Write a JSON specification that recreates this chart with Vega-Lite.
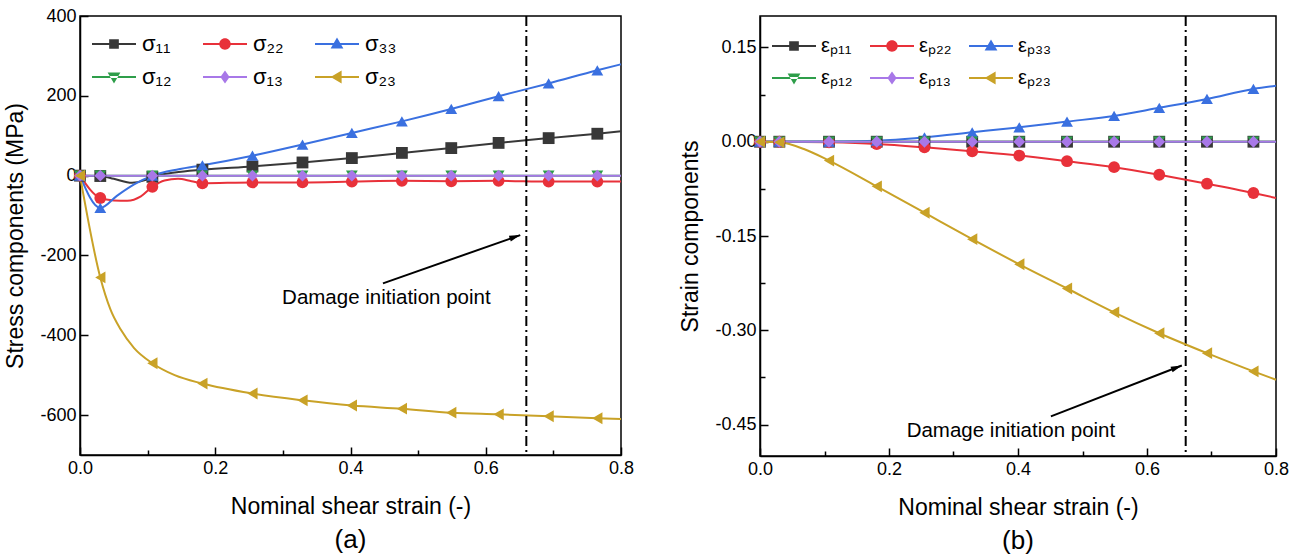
{
  "$schema": "https://vega.github.io/schema/vega-lite/v6.json",
  "background": "white",
  "padding": {"left": 4, "top": 6, "right": 4, "bottom": 2},
  "config": {
    "font": "Liberation Sans",
    "view": {"stroke": "black", "strokeWidth": 1.5},
    "axis": {"grid": false, "labelOverlap": false, "labelFlush": false, "domainColor": "black", "domainWidth": 1.5, "tickColor": "black", "tickWidth": 1.5, "labelColor": "black", "labelFontSize": 18, "titleColor": "black", "titleFontSize": 23, "titleFontWeight": "normal", "labelFont": "Liberation Sans", "titleFont": "Liberation Sans"},
    "title": {"fontSize": 26, "fontWeight": "normal", "color": "black", "font": "Liberation Sans"}
  },
  "datasets": {
    "damage": [{"x": 0.66}],
    "annotA": [{"x": 0.448, "y": -270, "x2": 0.651, "y2": -149, "tx": 0.453, "ty": -307, "label": "Damage initiation point"}],
    "annotB": [{"x": 0.451, "y": -0.437, "x2": 0.654, "y2": -0.356, "tx": 0.389, "ty": -0.46, "label": "Damage initiation point"}],
    "curveA": [
      {"s": "σ₁₁", "x": 0, "y": 0}, {"s": "σ₁₁", "x": 0.03, "y": -1}, {"s": "σ₁₁", "x": 0.05, "y": -8}, {"s": "σ₁₁", "x": 0.077, "y": -18}, {"s": "σ₁₁", "x": 0.095, "y": -12}, {"s": "σ₁₁", "x": 0.107, "y": -3}, {"s": "σ₁₁", "x": 0.14, "y": 8}, {"s": "σ₁₁", "x": 0.181, "y": 15}, {"s": "σ₁₁", "x": 0.255, "y": 23}, {"s": "σ₁₁", "x": 0.329, "y": 33}, {"s": "σ₁₁", "x": 0.402, "y": 44}, {"s": "σ₁₁", "x": 0.476, "y": 57}, {"s": "σ₁₁", "x": 0.549, "y": 69}, {"s": "σ₁₁", "x": 0.619, "y": 82}, {"s": "σ₁₁", "x": 0.693, "y": 94}, {"s": "σ₁₁", "x": 0.765, "y": 105}, {"s": "σ₁₁", "x": 0.8, "y": 111},
      {"s": "σ₂₂", "x": 0, "y": 0}, {"s": "σ₂₂", "x": 0.03, "y": -56}, {"s": "σ₂₂", "x": 0.05, "y": -62}, {"s": "σ₂₂", "x": 0.07, "y": -63}, {"s": "σ₂₂", "x": 0.09, "y": -52}, {"s": "σ₂₂", "x": 0.107, "y": -28}, {"s": "σ₂₂", "x": 0.125, "y": -12}, {"s": "σ₂₂", "x": 0.145, "y": -8}, {"s": "σ₂₂", "x": 0.165, "y": -14}, {"s": "σ₂₂", "x": 0.181, "y": -19}, {"s": "σ₂₂", "x": 0.255, "y": -17}, {"s": "σ₂₂", "x": 0.329, "y": -17}, {"s": "σ₂₂", "x": 0.402, "y": -15}, {"s": "σ₂₂", "x": 0.476, "y": -13}, {"s": "σ₂₂", "x": 0.549, "y": -14}, {"s": "σ₂₂", "x": 0.619, "y": -13}, {"s": "σ₂₂", "x": 0.693, "y": -15}, {"s": "σ₂₂", "x": 0.765, "y": -15}, {"s": "σ₂₂", "x": 0.8, "y": -15},
      {"s": "σ₃₃", "x": 0, "y": 0}, {"s": "σ₃₃", "x": 0.03, "y": -81}, {"s": "σ₃₃", "x": 0.055, "y": -50}, {"s": "σ₃₃", "x": 0.08, "y": -22}, {"s": "σ₃₃", "x": 0.107, "y": 0}, {"s": "σ₃₃", "x": 0.146, "y": 16}, {"s": "σ₃₃", "x": 0.181, "y": 26}, {"s": "σ₃₃", "x": 0.255, "y": 50}, {"s": "σ₃₃", "x": 0.329, "y": 78}, {"s": "σ₃₃", "x": 0.402, "y": 107}, {"s": "σ₃₃", "x": 0.476, "y": 136}, {"s": "σ₃₃", "x": 0.549, "y": 167}, {"s": "σ₃₃", "x": 0.619, "y": 199}, {"s": "σ₃₃", "x": 0.693, "y": 231}, {"s": "σ₃₃", "x": 0.765, "y": 264}, {"s": "σ₃₃", "x": 0.8, "y": 279},
      {"s": "σ₁₂", "x": 0, "y": 0}, {"s": "σ₁₂", "x": 0.8, "y": 0},
      {"s": "σ₁₃", "x": 0, "y": 0}, {"s": "σ₁₃", "x": 0.8, "y": 0},
      {"s": "σ₂₃", "x": 0, "y": 0}, {"s": "σ₂₃", "x": 0.03, "y": -255}, {"s": "σ₂₃", "x": 0.045, "y": -335}, {"s": "σ₂₃", "x": 0.06, "y": -385}, {"s": "σ₂₃", "x": 0.08, "y": -432}, {"s": "σ₂₃", "x": 0.107, "y": -470}, {"s": "σ₂₃", "x": 0.14, "y": -500}, {"s": "σ₂₃", "x": 0.181, "y": -521}, {"s": "σ₂₃", "x": 0.255, "y": -546}, {"s": "σ₂₃", "x": 0.329, "y": -563}, {"s": "σ₂₃", "x": 0.402, "y": -576}, {"s": "σ₂₃", "x": 0.476, "y": -584}, {"s": "σ₂₃", "x": 0.549, "y": -594}, {"s": "σ₂₃", "x": 0.619, "y": -598}, {"s": "σ₂₃", "x": 0.693, "y": -603}, {"s": "σ₂₃", "x": 0.765, "y": -608}, {"s": "σ₂₃", "x": 0.8, "y": -610}
    ],
    "markA": [
      {"s": "σ₁₁", "x": 0, "y": 0}, {"s": "σ₁₁", "x": 0.03, "y": -1}, {"s": "σ₁₁", "x": 0.107, "y": -3}, {"s": "σ₁₁", "x": 0.181, "y": 15}, {"s": "σ₁₁", "x": 0.255, "y": 23}, {"s": "σ₁₁", "x": 0.329, "y": 33}, {"s": "σ₁₁", "x": 0.402, "y": 44}, {"s": "σ₁₁", "x": 0.476, "y": 57}, {"s": "σ₁₁", "x": 0.549, "y": 69}, {"s": "σ₁₁", "x": 0.619, "y": 82}, {"s": "σ₁₁", "x": 0.693, "y": 94}, {"s": "σ₁₁", "x": 0.765, "y": 105},
      {"s": "σ₂₂", "x": 0, "y": 0}, {"s": "σ₂₂", "x": 0.03, "y": -56}, {"s": "σ₂₂", "x": 0.107, "y": -28}, {"s": "σ₂₂", "x": 0.181, "y": -19}, {"s": "σ₂₂", "x": 0.255, "y": -17}, {"s": "σ₂₂", "x": 0.329, "y": -17}, {"s": "σ₂₂", "x": 0.402, "y": -15}, {"s": "σ₂₂", "x": 0.476, "y": -13}, {"s": "σ₂₂", "x": 0.549, "y": -14}, {"s": "σ₂₂", "x": 0.619, "y": -13}, {"s": "σ₂₂", "x": 0.693, "y": -15}, {"s": "σ₂₂", "x": 0.765, "y": -15},
      {"s": "σ₃₃", "x": 0, "y": 0}, {"s": "σ₃₃", "x": 0.03, "y": -81}, {"s": "σ₃₃", "x": 0.107, "y": 0}, {"s": "σ₃₃", "x": 0.181, "y": 26}, {"s": "σ₃₃", "x": 0.255, "y": 50}, {"s": "σ₃₃", "x": 0.329, "y": 78}, {"s": "σ₃₃", "x": 0.402, "y": 107}, {"s": "σ₃₃", "x": 0.476, "y": 136}, {"s": "σ₃₃", "x": 0.549, "y": 167}, {"s": "σ₃₃", "x": 0.619, "y": 199}, {"s": "σ₃₃", "x": 0.693, "y": 231}, {"s": "σ₃₃", "x": 0.765, "y": 264},
      {"s": "σ₁₂", "x": 0, "y": 0}, {"s": "σ₁₂", "x": 0.03, "y": 0}, {"s": "σ₁₂", "x": 0.107, "y": 0}, {"s": "σ₁₂", "x": 0.181, "y": 0}, {"s": "σ₁₂", "x": 0.255, "y": 0}, {"s": "σ₁₂", "x": 0.329, "y": 0}, {"s": "σ₁₂", "x": 0.402, "y": 0}, {"s": "σ₁₂", "x": 0.476, "y": 0}, {"s": "σ₁₂", "x": 0.549, "y": 0}, {"s": "σ₁₂", "x": 0.619, "y": 0}, {"s": "σ₁₂", "x": 0.693, "y": 0}, {"s": "σ₁₂", "x": 0.765, "y": 0},
      {"s": "σ₁₃", "x": 0, "y": 0}, {"s": "σ₁₃", "x": 0.03, "y": 0}, {"s": "σ₁₃", "x": 0.107, "y": 0}, {"s": "σ₁₃", "x": 0.181, "y": 0}, {"s": "σ₁₃", "x": 0.255, "y": 0}, {"s": "σ₁₃", "x": 0.329, "y": 0}, {"s": "σ₁₃", "x": 0.402, "y": 0}, {"s": "σ₁₃", "x": 0.476, "y": 0}, {"s": "σ₁₃", "x": 0.549, "y": 0}, {"s": "σ₁₃", "x": 0.619, "y": 0}, {"s": "σ₁₃", "x": 0.693, "y": 0}, {"s": "σ₁₃", "x": 0.765, "y": 0},
      {"s": "σ₂₃", "x": 0, "y": 0}, {"s": "σ₂₃", "x": 0.03, "y": -255}, {"s": "σ₂₃", "x": 0.107, "y": -470}, {"s": "σ₂₃", "x": 0.181, "y": -521}, {"s": "σ₂₃", "x": 0.255, "y": -546}, {"s": "σ₂₃", "x": 0.329, "y": -563}, {"s": "σ₂₃", "x": 0.402, "y": -576}, {"s": "σ₂₃", "x": 0.476, "y": -584}, {"s": "σ₂₃", "x": 0.549, "y": -594}, {"s": "σ₂₃", "x": 0.619, "y": -598}, {"s": "σ₂₃", "x": 0.693, "y": -603}, {"s": "σ₂₃", "x": 0.765, "y": -608}
    ],
    "curveB": [
      {"s": "εₚ₁₁", "x": 0, "y": 0}, {"s": "εₚ₁₁", "x": 0.8, "y": 0},
      {"s": "εₚ₂₂", "x": 0, "y": 0}, {"s": "εₚ₂₂", "x": 0.03, "y": 0}, {"s": "εₚ₂₂", "x": 0.107, "y": -0.001}, {"s": "εₚ₂₂", "x": 0.181, "y": -0.0037}, {"s": "εₚ₂₂", "x": 0.255, "y": -0.009}, {"s": "εₚ₂₂", "x": 0.329, "y": -0.0153}, {"s": "εₚ₂₂", "x": 0.402, "y": -0.022}, {"s": "εₚ₂₂", "x": 0.476, "y": -0.031}, {"s": "εₚ₂₂", "x": 0.549, "y": -0.0405}, {"s": "εₚ₂₂", "x": 0.619, "y": -0.0526}, {"s": "εₚ₂₂", "x": 0.693, "y": -0.0668}, {"s": "εₚ₂₂", "x": 0.765, "y": -0.0816}, {"s": "εₚ₂₂", "x": 0.8, "y": -0.0895},
      {"s": "εₚ₃₃", "x": 0, "y": 0}, {"s": "εₚ₃₃", "x": 0.03, "y": 0}, {"s": "εₚ₃₃", "x": 0.107, "y": 0.0003}, {"s": "εₚ₃₃", "x": 0.181, "y": 0.0016}, {"s": "εₚ₃₃", "x": 0.255, "y": 0.007}, {"s": "εₚ₃₃", "x": 0.329, "y": 0.015}, {"s": "εₚ₃₃", "x": 0.402, "y": 0.023}, {"s": "εₚ₃₃", "x": 0.476, "y": 0.032}, {"s": "εₚ₃₃", "x": 0.549, "y": 0.041}, {"s": "εₚ₃₃", "x": 0.619, "y": 0.054}, {"s": "εₚ₃₃", "x": 0.693, "y": 0.068}, {"s": "εₚ₃₃", "x": 0.765, "y": 0.084}, {"s": "εₚ₃₃", "x": 0.8, "y": 0.089},
      {"s": "εₚ₁₂", "x": 0, "y": 0}, {"s": "εₚ₁₂", "x": 0.8, "y": 0},
      {"s": "εₚ₁₃", "x": 0, "y": 0}, {"s": "εₚ₁₃", "x": 0.8, "y": 0},
      {"s": "εₚ₂₃", "x": 0, "y": 0}, {"s": "εₚ₂₃", "x": 0.03, "y": -0.001}, {"s": "εₚ₂₃", "x": 0.069, "y": -0.012}, {"s": "εₚ₂₃", "x": 0.107, "y": -0.03}, {"s": "εₚ₂₃", "x": 0.181, "y": -0.071}, {"s": "εₚ₂₃", "x": 0.255, "y": -0.113}, {"s": "εₚ₂₃", "x": 0.329, "y": -0.155}, {"s": "εₚ₂₃", "x": 0.402, "y": -0.195}, {"s": "εₚ₂₃", "x": 0.476, "y": -0.2335}, {"s": "εₚ₂₃", "x": 0.549, "y": -0.2715}, {"s": "εₚ₂₃", "x": 0.619, "y": -0.3047}, {"s": "εₚ₂₃", "x": 0.693, "y": -0.3364}, {"s": "εₚ₂₃", "x": 0.765, "y": -0.3654}, {"s": "εₚ₂₃", "x": 0.8, "y": -0.3786}
    ],
    "markB": [
      {"s": "εₚ₁₁", "x": 0, "y": 0}, {"s": "εₚ₁₁", "x": 0.03, "y": 0}, {"s": "εₚ₁₁", "x": 0.107, "y": 0}, {"s": "εₚ₁₁", "x": 0.181, "y": 0}, {"s": "εₚ₁₁", "x": 0.255, "y": 0}, {"s": "εₚ₁₁", "x": 0.329, "y": 0}, {"s": "εₚ₁₁", "x": 0.402, "y": 0}, {"s": "εₚ₁₁", "x": 0.476, "y": 0}, {"s": "εₚ₁₁", "x": 0.549, "y": 0}, {"s": "εₚ₁₁", "x": 0.619, "y": 0}, {"s": "εₚ₁₁", "x": 0.693, "y": 0}, {"s": "εₚ₁₁", "x": 0.765, "y": 0},
      {"s": "εₚ₂₂", "x": 0, "y": 0}, {"s": "εₚ₂₂", "x": 0.03, "y": 0}, {"s": "εₚ₂₂", "x": 0.107, "y": -0.001}, {"s": "εₚ₂₂", "x": 0.181, "y": -0.0037}, {"s": "εₚ₂₂", "x": 0.255, "y": -0.009}, {"s": "εₚ₂₂", "x": 0.329, "y": -0.0153}, {"s": "εₚ₂₂", "x": 0.402, "y": -0.022}, {"s": "εₚ₂₂", "x": 0.476, "y": -0.031}, {"s": "εₚ₂₂", "x": 0.549, "y": -0.0405}, {"s": "εₚ₂₂", "x": 0.619, "y": -0.0526}, {"s": "εₚ₂₂", "x": 0.693, "y": -0.0668}, {"s": "εₚ₂₂", "x": 0.765, "y": -0.0816},
      {"s": "εₚ₃₃", "x": 0, "y": 0}, {"s": "εₚ₃₃", "x": 0.03, "y": 0}, {"s": "εₚ₃₃", "x": 0.107, "y": 0.0003}, {"s": "εₚ₃₃", "x": 0.181, "y": 0.0016}, {"s": "εₚ₃₃", "x": 0.255, "y": 0.007}, {"s": "εₚ₃₃", "x": 0.329, "y": 0.015}, {"s": "εₚ₃₃", "x": 0.402, "y": 0.023}, {"s": "εₚ₃₃", "x": 0.476, "y": 0.032}, {"s": "εₚ₃₃", "x": 0.549, "y": 0.041}, {"s": "εₚ₃₃", "x": 0.619, "y": 0.054}, {"s": "εₚ₃₃", "x": 0.693, "y": 0.068}, {"s": "εₚ₃₃", "x": 0.765, "y": 0.084},
      {"s": "εₚ₁₂", "x": 0, "y": 0}, {"s": "εₚ₁₂", "x": 0.03, "y": 0}, {"s": "εₚ₁₂", "x": 0.107, "y": 0}, {"s": "εₚ₁₂", "x": 0.181, "y": 0}, {"s": "εₚ₁₂", "x": 0.255, "y": 0}, {"s": "εₚ₁₂", "x": 0.329, "y": 0}, {"s": "εₚ₁₂", "x": 0.402, "y": 0}, {"s": "εₚ₁₂", "x": 0.476, "y": 0}, {"s": "εₚ₁₂", "x": 0.549, "y": 0}, {"s": "εₚ₁₂", "x": 0.619, "y": 0}, {"s": "εₚ₁₂", "x": 0.693, "y": 0}, {"s": "εₚ₁₂", "x": 0.765, "y": 0},
      {"s": "εₚ₁₃", "x": 0, "y": 0}, {"s": "εₚ₁₃", "x": 0.03, "y": 0}, {"s": "εₚ₁₃", "x": 0.107, "y": 0}, {"s": "εₚ₁₃", "x": 0.181, "y": 0}, {"s": "εₚ₁₃", "x": 0.255, "y": 0}, {"s": "εₚ₁₃", "x": 0.329, "y": 0}, {"s": "εₚ₁₃", "x": 0.402, "y": 0}, {"s": "εₚ₁₃", "x": 0.476, "y": 0}, {"s": "εₚ₁₃", "x": 0.549, "y": 0}, {"s": "εₚ₁₃", "x": 0.619, "y": 0}, {"s": "εₚ₁₃", "x": 0.693, "y": 0}, {"s": "εₚ₁₃", "x": 0.765, "y": 0},
      {"s": "εₚ₂₃", "x": 0, "y": 0}, {"s": "εₚ₂₃", "x": 0.03, "y": -0.001}, {"s": "εₚ₂₃", "x": 0.107, "y": -0.03}, {"s": "εₚ₂₃", "x": 0.181, "y": -0.071}, {"s": "εₚ₂₃", "x": 0.255, "y": -0.113}, {"s": "εₚ₂₃", "x": 0.329, "y": -0.155}, {"s": "εₚ₂₃", "x": 0.402, "y": -0.195}, {"s": "εₚ₂₃", "x": 0.476, "y": -0.2335}, {"s": "εₚ₂₃", "x": 0.549, "y": -0.2715}, {"s": "εₚ₂₃", "x": 0.619, "y": -0.3047}, {"s": "εₚ₂₃", "x": 0.693, "y": -0.3364}, {"s": "εₚ₂₃", "x": 0.765, "y": -0.3654}
    ]
  },
  "spacing": 44,
  "resolve": {"scale": {"color": "independent", "shape": "independent"}, "legend": {"color": "independent", "shape": "independent"}},
  "hconcat": [
    {
      "width": 541, "height": 439,
      "title": {"text": "(a)", "orient": "bottom", "offset": 9},
      "resolve": {"scale": {"shape": "independent", "color": "independent"}, "legend": {"shape": "independent", "color": "independent"}},
      "layer": [
        {"data": {"name": "curveA"}, "mark": {"type": "line", "interpolate": "monotone", "strokeWidth": 2},
         "encoding": {
           "x": {"field": "x", "type": "quantitative", "scale": {"domain": [0, 0.8], "nice": false},
                 "axis": {"title": "Nominal shear strain (-)", "values": [0, 0.1, 0.2, 0.3, 0.4, 0.5, 0.6, 0.7, 0.8], "labelOverlap": false, "labelFlush": false,
                          "labelExpr": "round(datum.value*10) % 2 == 0 ? format(datum.value, '.1f') : ''",
                          "tickSize": {"condition": {"test": "round(datum.value*10) % 2 == 0", "value": -8}, "value": -5},
                          "labelPadding": 12, "titlePadding": 15}},
           "y": {"field": "y", "type": "quantitative", "scale": {"domain": [-700, 400], "nice": false},
                 "axis": {"title": "Stress components (MPa)", "values": [-600, -400, -200, 0, 200, 400], "labelOverlap": false,
                          "labelExpr": "(datum.value < 0 ? '-' : '') + abs(datum.value)",
                          "tickSize": -8,
                          "labelPadding": 12, "titlePadding": 12}},
           "color": {"field": "s", "type": "nominal", "legend": null, "scale": {"domain": ["σ₁₁", "σ₂₂", "σ₃₃", "σ₁₂", "σ₁₃", "σ₂₃"], "range": ["#383838", "#e8313a", "#3a70e0", "#2e9e4a", "#a878e8", "#c9a227"]}}
         }},
        {"data": {"name": "damage"}, "mark": {"type": "rule", "color": "black", "strokeWidth": 2, "strokeDash": [10, 4, 2, 4]},
         "encoding": {"x": {"field": "x", "type": "quantitative"}}},
        {"data": {"name": "markA"}, "mark": {"type": "point", "filled": true, "opacity": 1, "size": 140},
         "encoding": {
           "x": {"field": "x", "type": "quantitative"},
           "y": {"field": "y", "type": "quantitative"},
           "color": {"field": "s", "type": "nominal", "legend": null, "scale": {"domain": ["σ₁₁", "σ₂₂", "σ₃₃", "σ₁₂", "σ₁₃", "σ₂₃"], "range": ["#383838", "#e8313a", "#3a70e0", "#2e9e4a", "#a878e8", "#c9a227"]}},
           "shape": {"field": "s", "type": "nominal", "legend": null, "scale": {"domain": ["σ₁₁", "σ₂₂", "σ₃₃", "σ₁₂", "σ₁₃", "σ₂₃"], "range": ["square", "circle", "triangle-up", "triangle-down", "diamond", "triangle-left"]}}
         }},
        {"data": {"name": "markA"}, "mark": {"type": "point", "filled": true, "size": 0},
         "encoding": {
           "x": {"field": "x", "type": "quantitative"},
           "y": {"field": "y", "type": "quantitative"},
           "color": {"field": "s", "type": "nominal", "scale": {"domain": ["σ₁₁", "σ₂₂", "σ₃₃", "σ₁₂", "σ₁₃", "σ₂₃"], "range": ["#383838", "#e8313a", "#3a70e0", "#2e9e4a", "#a878e8", "#c9a227"]},
                     "legend": {"title": null, "orient": "none", "legendX": 12, "legendY": 6, "columns": 3, "direction": "horizontal", "symbolSize": 1936, "symbolStrokeWidth": 0, "symbolOpacity": 1, "labelFontSize": 22, "labelColor": "black", "columnPadding": 31, "rowPadding": -11, "labelOffset": 6}},
           "shape": {"field": "s", "type": "nominal", "legend": {"title": null, "orient": "none", "legendX": 12, "legendY": 6, "columns": 3, "direction": "horizontal", "symbolSize": 1936, "symbolStrokeWidth": 0, "symbolOpacity": 1, "labelFontSize": 22, "labelColor": "black", "columnPadding": 31, "rowPadding": -11, "labelOffset": 6},
                     "scale": {"domain": ["σ₁₁", "σ₂₂", "σ₃₃", "σ₁₂", "σ₁₃", "σ₂₃"], "range": [
                       "M-1,-0.045H1V0.045H-1Z M-0.22,-0.22H0.22V0.22H-0.22Z",
                       "M-1,-0.045H1V0.045H-1Z M0.26,0A0.26,0.26,0,1,1,-0.26,0A0.26,0.26,0,1,1,0.26,0Z",
                       "M-1,-0.045H1V0.045H-1Z M0,-0.29L0.29,0.21L-0.29,0.21Z",
                       "M-1,-0.045H1V0.045H-1Z M0,0.29L0.29,-0.21L-0.29,-0.21Z",
                       "M-1,-0.045H1V0.045H-1Z M0,-0.3L0.21,0L0,0.3L-0.21,0Z",
                       "M-1,-0.045H1V0.045H-1Z M-0.29,0L0.21,-0.29L0.21,0.29Z"]}}
         }},
        {"data": {"name": "annotA"}, "mark": {"type": "rule", "color": "black", "strokeWidth": 2},
         "encoding": {"x": {"field": "x", "type": "quantitative"}, "y": {"field": "y", "type": "quantitative"}, "x2": {"field": "x2"}, "y2": {"field": "y2"}}},
        {"data": {"name": "annotA"}, "mark": {"type": "point", "filled": true, "color": "black", "opacity": 1, "size": 100, "angle": -19, "shape": "M0,0L-2.2,-0.6L-2.2,0.6Z"},
         "encoding": {"x": {"field": "x2", "type": "quantitative"}, "y": {"field": "y2", "type": "quantitative"}}},
        {"data": {"name": "annotA"}, "mark": {"type": "text", "fontSize": 20.5, "color": "black", "font": "Liberation Sans"},
         "encoding": {"x": {"field": "tx", "type": "quantitative"}, "y": {"field": "ty", "type": "quantitative"}, "text": {"field": "label"}}}
      ]
    },
    {
      "width": 516, "height": 440,
      "title": {"text": "(b)", "orient": "bottom", "offset": 9},
      "resolve": {"scale": {"shape": "independent", "color": "independent"}, "legend": {"shape": "independent", "color": "independent"}},
      "layer": [
        {"data": {"name": "damage"}, "mark": {"type": "rule", "color": "black", "strokeWidth": 2, "strokeDash": [10, 4, 2, 4]},
         "encoding": {"x": {"field": "x", "type": "quantitative", "scale": {"domain": [0, 0.8], "nice": false}}}},
        {"data": {"name": "curveB"}, "mark": {"type": "line", "interpolate": "monotone", "strokeWidth": 2},
         "encoding": {
           "x": {"field": "x", "type": "quantitative", "scale": {"domain": [0, 0.8], "nice": false},
                 "axis": {"title": "Nominal shear strain (-)", "values": [0, 0.1, 0.2, 0.3, 0.4, 0.5, 0.6, 0.7, 0.8], "labelOverlap": false, "labelFlush": false,
                          "labelExpr": "round(datum.value*10) % 2 == 0 ? format(datum.value, '.1f') : ''",
                          "tickSize": {"condition": {"test": "round(datum.value*10) % 2 == 0", "value": -8}, "value": -5},
                          "labelPadding": 12, "titlePadding": 15}},
           "y": {"field": "y", "type": "quantitative", "scale": {"domain": [-0.5, 0.2], "nice": false},
                 "axis": {"title": "Strain components", "values": [-0.45, -0.375, -0.3, -0.225, -0.15, -0.075, 0, 0.075, 0.15], "labelOverlap": false,
                          "labelExpr": "round(datum.value*1000) % 150 == 0 ? (datum.value < 0 ? '-' : '') + format(abs(datum.value), '.2f') : ''",
                          "tickSize": {"condition": {"test": "round(datum.value*1000) % 150 == 0", "value": -8}, "value": -5},
                          "labelPadding": 12, "titlePadding": 12}},
           "color": {"field": "s", "type": "nominal", "legend": null, "scale": {"domain": ["εₚ₁₁", "εₚ₂₂", "εₚ₃₃", "εₚ₁₂", "εₚ₁₃", "εₚ₂₃"], "range": ["#383838", "#e8313a", "#3a70e0", "#2e9e4a", "#a878e8", "#c9a227"]}}
         }},
        {"data": {"name": "markB"}, "mark": {"type": "point", "filled": true, "opacity": 1, "size": 140},
         "encoding": {
           "x": {"field": "x", "type": "quantitative"},
           "y": {"field": "y", "type": "quantitative"},
           "color": {"field": "s", "type": "nominal", "legend": null, "scale": {"domain": ["εₚ₁₁", "εₚ₂₂", "εₚ₃₃", "εₚ₁₂", "εₚ₁₃", "εₚ₂₃"], "range": ["#383838", "#e8313a", "#3a70e0", "#2e9e4a", "#a878e8", "#c9a227"]}},
           "shape": {"field": "s", "type": "nominal", "legend": null, "scale": {"domain": ["εₚ₁₁", "εₚ₂₂", "εₚ₃₃", "εₚ₁₂", "εₚ₁₃", "εₚ₂₃"], "range": ["square", "circle", "triangle-up", "triangle-down", "diamond", "triangle-left"]}}
         }},
        {"data": {"name": "markB"}, "mark": {"type": "point", "filled": true, "size": 0},
         "encoding": {
           "x": {"field": "x", "type": "quantitative"},
           "y": {"field": "y", "type": "quantitative"},
           "color": {"field": "s", "type": "nominal", "scale": {"domain": ["εₚ₁₁", "εₚ₂₂", "εₚ₃₃", "εₚ₁₂", "εₚ₁₃", "εₚ₂₃"], "range": ["#383838", "#e8313a", "#3a70e0", "#2e9e4a", "#a878e8", "#c9a227"]},
                     "legend": {"title": null, "orient": "none", "legendX": 12, "legendY": 8, "columns": 3, "direction": "horizontal", "symbolSize": 1936, "symbolStrokeWidth": 0, "symbolOpacity": 1, "labelFontSize": 20, "labelColor": "black", "columnPadding": 17, "rowPadding": -14, "labelOffset": 5}},
           "shape": {"field": "s", "type": "nominal", "legend": {"title": null, "orient": "none", "legendX": 12, "legendY": 8, "columns": 3, "direction": "horizontal", "symbolSize": 1936, "symbolStrokeWidth": 0, "symbolOpacity": 1, "labelFontSize": 20, "labelColor": "black", "columnPadding": 17, "rowPadding": -14, "labelOffset": 5},
                     "scale": {"domain": ["εₚ₁₁", "εₚ₂₂", "εₚ₃₃", "εₚ₁₂", "εₚ₁₃", "εₚ₂₃"], "range": [
                       "M-1,-0.045H1V0.045H-1Z M-0.22,-0.22H0.22V0.22H-0.22Z",
                       "M-1,-0.045H1V0.045H-1Z M0.26,0A0.26,0.26,0,1,1,-0.26,0A0.26,0.26,0,1,1,0.26,0Z",
                       "M-1,-0.045H1V0.045H-1Z M0,-0.29L0.29,0.21L-0.29,0.21Z",
                       "M-1,-0.045H1V0.045H-1Z M0,0.29L0.29,-0.21L-0.29,-0.21Z",
                       "M-1,-0.045H1V0.045H-1Z M0,-0.3L0.21,0L0,0.3L-0.21,0Z",
                       "M-1,-0.045H1V0.045H-1Z M-0.29,0L0.21,-0.29L0.21,0.29Z"]}}
         }},
        {"data": {"name": "annotB"}, "mark": {"type": "rule", "color": "black", "strokeWidth": 2},
         "encoding": {"x": {"field": "x", "type": "quantitative"}, "y": {"field": "y", "type": "quantitative"}, "x2": {"field": "x2"}, "y2": {"field": "y2"}}},
        {"data": {"name": "annotB"}, "mark": {"type": "point", "filled": true, "color": "black", "opacity": 1, "size": 100, "angle": -21, "shape": "M0,0L-2.2,-0.6L-2.2,0.6Z"},
         "encoding": {"x": {"field": "x2", "type": "quantitative"}, "y": {"field": "y2", "type": "quantitative"}}},
        {"data": {"name": "annotB"}, "mark": {"type": "text", "fontSize": 20.5, "color": "black", "font": "Liberation Sans"},
         "encoding": {"x": {"field": "tx", "type": "quantitative"}, "y": {"field": "ty", "type": "quantitative"}, "text": {"field": "label"}}}
      ]
    }
  ]
}
